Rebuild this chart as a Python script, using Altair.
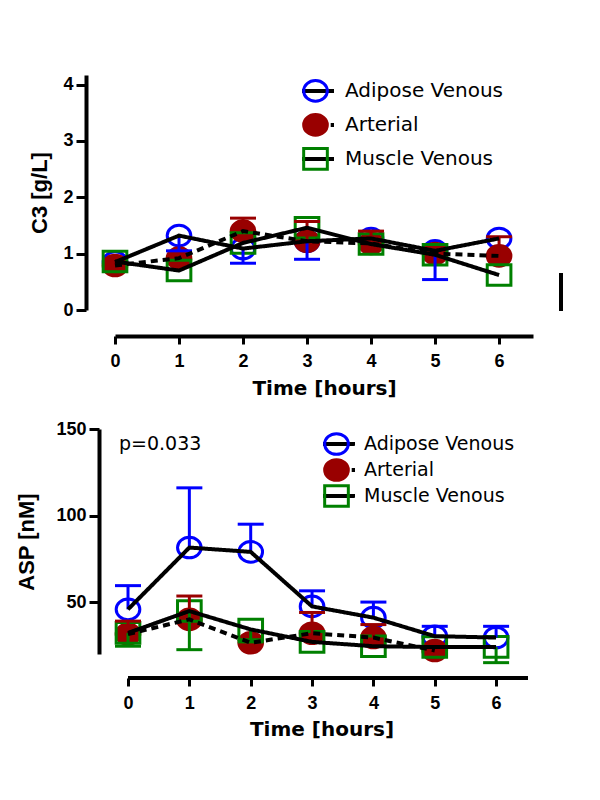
import altair as alt
import pandas as pd

hours = [0, 1, 2, 3, 4, 5, 6]
series_names = ["Adipose Venous", "Arterial", "Muscle Venous"]

# ---- C3 panel (means and visible error-bar tips) ----
c3_adipose = [0.85, 1.32, 1.09, 1.22, 1.27, 1.05, 1.27]
c3_arterial = [0.79, 0.92, 1.40, 1.22, 1.18, 1.00, 0.96]
c3_muscle = [0.86, 0.70, 1.19, 1.46, 1.17, 0.98, 0.62]
c3_adipose_tip = [None, 1.05, 0.83, 0.90, None, 0.54, None]
c3_arterial_tip = [None, None, 1.63, 1.57, 1.40, None, 1.30]
c3_muscle_tip = [None, None, None, None, None, None, None]

# ---- ASP panel ----
asp_adipose = [45.8, 81.5, 79.0, 47.5, 41.0, 30.3, 29.5]
asp_arterial = [31.5, 40.0, 26.5, 32.0, 29.5, 22.0, None]
asp_muscle = [32.2, 44.8, 34.2, 27.0, 24.5, 24.0, 24.1]
asp_adipose_tip = [59.5, 116.0, 95.0, 56.5, 50.0, 36.0, 36.0]
asp_arterial_tip = [39.0, 53.5, None, 44.0, 37.0, None, None]
asp_muscle_tip = [24.5, 22.5, 27.0, None, None, None, 15.0]

c3_ticks = [0, 1, 2, 3, 4]
asp_ticks = [50, 100, 150]
x_title = "Time [hours]"
c3_title = "C3 [g/L]"
asp_title = "ASP [nM]"
p_label = ["p=0.033"]

BLUE, RED, GREEN = "#0000ff", "#990000", "#008000"
colors = [BLUE, RED, GREEN]
fills = ["transparent", RED, "transparent"]
ELLIPSE = "M-1,0A1,0.87,0,1,1,1,0A1,0.87,0,1,1,-1,0Z"
RECT = "M-1,-0.87H1V0.87H-1Z"
LINE = "M-1.8,0H1.8"
shapes = [ELLIPSE, ELLIPSE, RECT]
dashes = [[1, 0], [7, 5], [1, 0]]
MSIZE = 560


def long_df(means_list, tips_list):
    rows = []
    for name, means, tips in zip(series_names, means_list, tips_list):
        for h, m, t in zip(hours, means, tips):
            if m is None:
                continue
            rows.append({"hour": h, "value": m, "tip": t, "series": name, "mseries": name})
    return pd.DataFrame(rows)


def y_axis(yticks, ytitle, yoffset, ytpad):
    return alt.Axis(values=yticks, title=ytitle, offset=yoffset, tickSize=10,
                    tickWidth=3, domainWidth=4, labelPadding=3,
                    titlePadding=ytpad, grid=False, labelFlush=False,
                    labelOverlap=False, domainColor="black", tickColor="black",
                    labelColor="black", titleColor="black",
                    labelFont="Liberation Sans", labelFontWeight="bold",
                    labelFontSize=18, titleFont="Liberation Sans",
                    titleFontWeight="bold", titleFontSize=22)


def panel(df, width, height, xdomain, ydomain, yticks, ytitle, xoffset, yoffset, ytpad,
          xtpad, leg, show_xdomain, axis_end, extras):
    X = alt.X("hour:Q", scale=alt.Scale(domain=xdomain, nice=False, zero=False),
              axis=alt.Axis(values=hours, title=x_title, offset=xoffset, tickSize=8,
                            tickWidth=3, domainWidth=4, domain=show_xdomain,
                            labelPadding=8, titlePadding=xtpad, grid=False,
                            labelFlush=False, labelOverlap=False,
                            domainColor="black", tickColor="black",
                            labelColor="black", titleColor="black",
                            labelFont="Liberation Sans", labelFontWeight="bold",
                            labelFontSize=18, titleFont="DejaVu Sans",
                            titleFontWeight="bold", titleFontSize=20))
    yscale = alt.Scale(domain=ydomain, nice=False, zero=False)
    Y = alt.Y("value:Q", scale=yscale, axis=y_axis(yticks, ytitle, yoffset, ytpad))
    Ytip = alt.Y("tip:Q", scale=yscale, axis=y_axis(yticks, ytitle, yoffset, ytpad))

    mk_legend = alt.Legend(title=None, orient="none", legendX=leg["x"], legendY=leg["y"],
                           padding=0, symbolSize=MSIZE, symbolStrokeWidth=3,
                           symbolOpacity=1, labelFont="DejaVu Sans",
                           labelFontSize=leg["fs"], labelColor="black",
                           labelOffset=leg["lofs"], rowPadding=0,
                           clipHeight=leg["h"], zindex=2)
    ln_legend = alt.Legend(title=None, orient="none", legendX=leg["x"],
                           legendY=leg["y"], padding=0,
                           symbolType=LINE, symbolSize=MSIZE, symbolStrokeWidth=4,
                           symbolStrokeColor="black", symbolFillColor="transparent",
                           symbolOpacity=1, labelExpr="''", labelFontSize=leg["fs"],
                           rowPadding=0, clipHeight=leg["h"], zindex=1)

    markers = alt.Chart(df).mark_point(size=MSIZE, strokeWidth=3, opacity=1).encode(
        x=X, y=Y,
        shape=alt.Shape("mseries:N", scale=alt.Scale(domain=series_names, range=shapes),
                        legend=mk_legend),
        stroke=alt.Stroke("mseries:N", scale=alt.Scale(domain=series_names, range=colors),
                          legend=mk_legend),
        fill=alt.Fill("mseries:N", scale=alt.Scale(domain=series_names, range=fills),
                      legend=mk_legend),
    )

    errs = []
    for name, col in zip(series_names, colors):
        sub = df[(df["series"] == name) & df["tip"].notna()]
        if len(sub) == 0:
            continue
        errs.append(alt.Chart(sub).mark_rule(color=col, strokeWidth=3).encode(
            x=X, y=Y, y2=alt.Y2("tip:Q")))
        errs.append(alt.Chart(sub).mark_tick(color=col, orient="horizontal", size=26,
                                             thickness=3, opacity=1).encode(x=X, y=Ytip))

    # strokeDash domain is taken from the data (sorted), so this legend stays separate
    lines = alt.Chart(df).mark_line(color="black", strokeWidth=4).encode(
        x=X, y=Y,
        strokeDash=alt.StrokeDash("series:N", scale=alt.Scale(range=dashes),
                                  legend=ln_legend),
        order="hour:Q",
    )

    layers = [markers] + errs + [lines]
    if not show_xdomain:
        axis_df = pd.DataFrame({"hour": [0], "hour_end": [axis_end]})
        layers.append(alt.Chart(axis_df).mark_rule(color="black", strokeWidth=4).encode(
            x=X, x2=alt.X2("hour_end:Q"), y=alt.value(height + xoffset)))
    layers += extras
    return alt.layer(*layers).properties(width=width, height=height)


c3_df = long_df([c3_adipose, c3_arterial, c3_muscle],
                [c3_adipose_tip, c3_arterial_tip, c3_muscle_tip])
asp_df = long_df([asp_adipose, asp_arterial, asp_muscle],
                 [asp_adipose_tip, asp_arterial_tip, asp_muscle_tip])

stray_bar = alt.Chart(pd.DataFrame({"k": [0]})).mark_rule(
    color="black", strokeWidth=4).encode(x=alt.value(446), y=alt.value(198), y2=alt.value(236))

p_text = alt.Chart(pd.DataFrame({"label": p_label})).mark_text(
    align="left", baseline="alphabetic", font="DejaVu Sans", fontSize=19, color="black"
).encode(text="label:N", x=alt.value(4), y=alt.value(20.7))

top_leg = {"x": 187, "y": -1, "h": 33.8, "fs": 20, "lofs": 16}
bot_leg = {"x": 208, "y": 2, "h": 26, "fs": 19, "lofs": 14}

top = panel(c3_df, 418, 235, [0, 6.53], [0, 4.17], c3_ticks, c3_title, 26, 29, 11, 8,
            top_leg, True, 6.53, [stray_bar])
bottom = panel(asp_df, 413, 225, [-0.212, 6.52], [20, 150], asp_ticks, asp_title, 24, 16, 17, 7,
               bot_leg, False, 6.52, [p_text])

chart = alt.vconcat(top, bottom, spacing=119, bounds="flush", background="white").properties(
    padding={"left": 7, "top": 66, "right": 10, "bottom": 10}
).resolve_scale(
    shape="independent", stroke="independent", fill="independent", strokeDash="independent"
).resolve_legend(
    shape="independent", stroke="independent", fill="independent", strokeDash="independent"
).configure_view(strokeWidth=0)

chart.save("out.html", embed_options={"renderer": "svg", "actions": False})
